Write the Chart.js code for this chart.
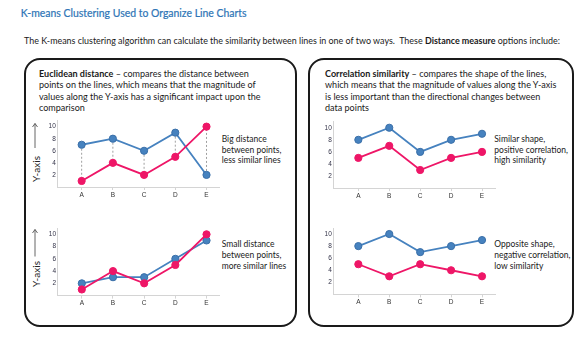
<!DOCTYPE html>
<html><head><meta charset="utf-8">
<script src="https://cdn.jsdelivr.net/npm/chart.js@4"></script>
<style>
html,body{margin:0;padding:0;background:#fff;}
#root{position:relative;width:588px;height:352px;overflow:hidden;font-family:Lato,'Open Sans',sans-serif;color:#1a1a1a;}
.t{position:absolute;white-space:nowrap;line-height:1.2;}
.box{position:absolute;border:2px solid #1a1a1a;border-radius:16px;box-sizing:border-box;}
canvas{position:absolute;}
.ya{position:absolute;white-space:nowrap;font-size:10px;transform:translate(-50%,-50%) rotate(-90deg);color:#222;}
svg{position:absolute;left:0;top:0;}
</style></head>
<body><div id="root">
<div class="box" style="left:24px;top:58px;width:273px;height:269px"></div>
<div class="box" style="left:308px;top:58px;width:266px;height:269px"></div>

<div class="t" data-g="title" data-w="226" data-x="20.7" data-cy="14" style="color:#2e75b6;-webkit-text-stroke:0.2px #2e75b6;">K-means Clustering Used to Organize Line Charts</div>
<div class="t" data-g="sub" data-w="536.7" data-x="24" data-cy="42">The K-means clustering algorithm can calculate the similarity between lines in one of two ways.&nbsp; These <b>Distance measure</b> options include:</div>

<div class="t" data-g="para" data-w="209.3" data-x="39" data-cy="75"><b>Euclidean distance</b> – compares the distance between</div>
<div class="t" data-g="para" data-w="226" data-x="39" data-cy="86.5">points on the lines, which means that the magnitude of</div>
<div class="t" data-g="para" data-w="221.7" data-x="39" data-cy="98">values along the Y-axis has a significant impact upon the</div>
<div class="t" data-g="para" data-w="46" data-x="39" data-cy="109">comparison</div>

<div class="t" data-g="para" data-w="223.3" data-x="325" data-cy="75"><b>Correlation similarity</b> – compares the shape of the lines,</div>
<div class="t" data-g="para" data-w="232.7" data-x="325" data-cy="86.5">which means that the magnitude of values along the Y-axis</div>
<div class="t" data-g="para" data-w="214.3" data-x="325" data-cy="98">is less important than the directional changes between</div>
<div class="t" data-g="para" data-w="34.3" data-x="325" data-cy="109">data points</div>

<div class="t" data-g="side" data-w="41.7" data-x="221.7" data-cy="140">Big distance</div>
<div class="t" data-g="side" data-w="61.7" data-x="221.7" data-cy="150.5">between points,</div>
<div class="t" data-g="side" data-w="58" data-x="221.7" data-cy="161">less similar lines</div>

<div class="t" data-g="side" data-w="60" data-x="221.7" data-cy="245">Small distance</div>
<div class="t" data-g="side" data-w="61.7" data-x="221.7" data-cy="256">between points,</div>
<div class="t" data-g="side" data-w="72.3" data-x="221.7" data-cy="266.7">more similar lines</div>

<div class="t" data-g="side" data-w="50.7" data-x="494.3" data-cy="140">Similar shape,</div>
<div class="t" data-g="side" data-w="72.3" data-x="494.3" data-cy="150.5">positive correlation,</div>
<div class="t" data-g="side" data-w="50" data-x="494.3" data-cy="161">high similarity</div>

<div class="t" data-g="side" data-w="54" data-x="494.3" data-cy="245">Opposite shape,</div>
<div class="t" data-g="side" data-w="74" data-x="494.3" data-cy="255.7">negative correlation,</div>
<div class="t" data-g="side" data-w="46.3" data-x="494.3" data-cy="266.7">low similarity</div>

<div class="ya" style="left:35.5px;top:169px">Y-axis</div>
<div class="ya" style="left:35.5px;top:274px">Y-axis</div>

<svg width="588" height="352">
  <g stroke="#555" stroke-width="0.9" fill="none">
    <line x1="35" y1="148" x2="35" y2="123.5"/>
    <polyline points="32.5,127 35,123.5 37.5,127"/>
    <line x1="35" y1="256.5" x2="35" y2="229.5"/>
    <polyline points="32.5,233 35,229.5 37.5,233"/>
  </g>
</svg>

<canvas id="c1"></canvas>
<canvas id="c2"></canvas>
<canvas id="c3"></canvas>
<canvas id="c4"></canvas>
</div>
<script>
// ---- data ----
const categories = ['A','B','C','D','E'];
const yTicks = [2,4,6,8,10];
const euclidBigBlue   = [7,8,6,9,2];
const euclidBigPink   = [1,4,2,5,10];
const euclidSmallBlue = [2,3,3,6,9];
const euclidSmallPink = [1,4,2,5,10];
const corrPosBlue     = [8,10,6,8,9];
const corrPosPink     = [5,7,3,5,6];
const corrNegBlue     = [8,10,7,8,9];
const corrNegPink     = [5,3,5,4,3];

// ---- text fitting ----
(function(){
  const els = Array.from(document.querySelectorAll('.t'));
  const groups = {};
  els.forEach(e=>{ (groups[e.dataset.g] = groups[e.dataset.g] || []).push(e); e.style.fontSize='10px'; e.style.left=e.dataset.x+'px'; e.style.top='0px';});
  Object.values(groups).forEach(g=>{
    let tw=0, mw=0;
    g.forEach(e=>{ tw += +e.dataset.w; mw += e.getBoundingClientRect().width; });
    const fs = 10*tw/mw;
    g.forEach(e=>{ e.style.fontSize = fs+'px'; e.style.top = (+e.dataset.cy - 0.68*fs)+'px'; });
  });
})();

const BLUE='#4682bf', BLUE_B='#3a6fa8', PINK='#ee1667';

function makeChart(id, area, xr, blue, pink, connectors){
  const cv = document.getElementById(id);
  const cl = Math.floor(area.l) - 40, ct = Math.floor(area.t) - 10;
  const w = Math.ceil(area.r - cl + 6), h = Math.ceil(area.b - ct + 24);
  cv.width = w; cv.height = h;
  cv.style.left = cl+'px'; cv.style.top = ct+'px';
  cv.style.width = w+'px'; cv.style.height = h+'px';
  const yw = area.l - cl, padT = area.t - ct, padR = w - (area.r - cl);
  const xh = 16, padB = h - (area.b - ct) - xh;
  const datasets = [
    {data: pink.map((v,i)=>({x:i,y:v})), borderColor:PINK, backgroundColor:PINK, pointBackgroundColor:PINK, pointBorderColor:PINK,
     borderWidth:1.8, pointRadius:3.6, pointBorderWidth:1, tension:0},
    {data: blue.map((v,i)=>({x:i,y:v})), borderColor:BLUE, backgroundColor:BLUE, pointBackgroundColor:BLUE, pointBorderColor:BLUE_B,
     borderWidth:1.8, pointRadius:3.6, pointBorderWidth:1, tension:0}
  ];
  if (connectors){
    categories.forEach((c,i)=>{
      datasets.push({data:[{x:i,y:blue[i]},{x:i,y:pink[i]}], borderColor:'#a0a0a0', borderDash:[2,2], borderWidth:1, pointRadius:0});
    });
  }
  new Chart(cv, {
    type:'line',
    data:{datasets},
    options:{
      responsive:false, animation:false, devicePixelRatio:1,
      layout:{padding:{left:0, top:padT, right:padR, bottom:padB}},
      plugins:{legend:{display:false}, tooltip:{enabled:false}},
      scales:{
        x:{type:'linear', min:xr[0], max:xr[1],
           afterBuildTicks:s=>{ s.ticks = categories.map((_,i)=>({value:i})); },
           afterFit:s=>{ s.height = xh; },
           grid:{display:true, drawOnChartArea:false, drawTicks:true, tickLength:3, color:'#d4d4d4'},
           border:{display:true, color:'#d4d4d4', width:1},
           ticks:{padding:1, autoSkip:false, maxRotation:0, color:'#333', font:{family:'Liberation Sans', size:6.5},
                  callback:v=>categories[v] ?? ''}},
        y:{type:'linear', min:0, max:11,
           afterBuildTicks:s=>{ s.ticks = yTicks.map(v=>({value:v})); },
           afterFit:s=>{ s.width = yw; },
           grid:{display:false, drawTicks:false},
           border:{display:true, color:'#d4d4d4', width:1},
           ticks:{padding:1.5, color:'#333348', font:{family:'Liberation Sans', size:6.5}}}
      }
    }
  });
}

makeChart('c1', {l:57.3, r:219, t:120.6, b:187}, [-0.78, 4.4], euclidBigBlue, euclidBigPink, true);
makeChart('c2', {l:57.5, r:219, t:228.2, b:295.6}, [-0.78, 4.4], euclidSmallBlue, euclidSmallPink, false);
makeChart('c3', {l:333.3, r:495, t:121.7, b:188.1}, [-0.81, 4.42], corrPosBlue, corrPosPink, false);
makeChart('c4', {l:333.3, r:495, t:228, b:294.4}, [-0.81, 4.42], corrNegBlue, corrNegPink, false);
</script>
</body></html>
